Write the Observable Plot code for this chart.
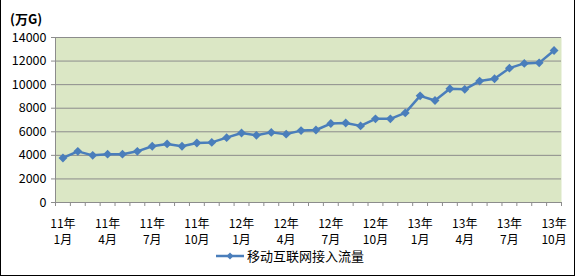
<!DOCTYPE html>
<html><head><meta charset="utf-8">
<script src="https://cdn.jsdelivr.net/npm/d3@7"></script>
<script src="https://cdn.jsdelivr.net/npm/@observablehq/plot@0.6"></script>
<style>
body{margin:0;background:#fff;font-family:"Noto Sans CJK SC","Noto Sans",sans-serif;}
#wrap{position:relative;width:575px;height:276px;box-sizing:border-box;border:1px solid #000;border-top:none;overflow:hidden;background:#fff}
#chart{position:absolute;left:0;top:0}
#unit{position:absolute;left:9px;top:9px;font-size:13px;font-weight:bold;color:#000}
#legend{position:absolute;left:215px;top:249px;display:flex;align-items:center;font-size:13px;line-height:14px;color:#000}
#legend svg{margin-right:3px}
</style></head><body>
<div id="wrap">
<div id="chart"></div>
<div id="unit">(万G)</div>
<div id="legend"><svg width="28" height="12"><line x1="0" y1="6" x2="28" y2="6" stroke="#4a7ebb" stroke-width="2.5"/><path d="M14,2.5L17.5,6L14,9.5L10.5,6Z" fill="#4a7ebb"/></svg><span id="legendText"></span></div>
</div>
<script>
const seriesName = "移动互联网接入流量";
const months = ["11年1月","11年2月","11年3月","11年4月","11年5月","11年6月","11年7月","11年8月","11年9月","11年10月","11年11月","11年12月",
"12年1月","12年2月","12年3月","12年4月","12年5月","12年6月","12年7月","12年8月","12年9月","12年10月","12年11月","12年12月",
"13年1月","13年2月","13年3月","13年4月","13年5月","13年6月","13年7月","13年8月","13年9月","13年10月"];
const traffic = [3780,4340,4000,4100,4100,4340,4770,4970,4770,5050,5100,5500,
5900,5700,5950,5800,6100,6150,6700,6750,6500,7100,7100,7600,
9050,8650,9650,9600,10300,10500,11400,11800,11850,12900];
const yTicks = [0,2000,4000,6000,8000,10000,12000,14000];

document.getElementById("legendText").textContent = seriesName;
const data = months.map((m, i) => ({m, i, v: traffic[i]}));
const labelPos = data.filter(d => d.i % 3 === 0).map(d => d.i + 0.5);
const gray = "#8c8c8c";
const font = '"Noto Sans CJK SC","Noto Sans",sans-serif';

const plot = Plot.plot({
  width: 573, height: 246,
  marginLeft: 54, marginRight: 13, marginTop: 37, marginBottom: 44,
  style: {fontFamily: font, fontSize: "12.5px", color: "#000", background: "transparent", overflow: "visible"},
  x: {domain: [0, months.length]},
  y: {domain: [0, 14000]},
  marks: [
    Plot.frame({fill: "#dbe7c5", stroke: null}),
    Plot.gridY(yTicks.filter(t => t > 0), {stroke: gray, strokeOpacity: 1, strokeWidth: 1}),
    Plot.ruleY([0], {stroke: gray}),
    Plot.ruleX([0], {stroke: gray}),
    Plot.axisY(yTicks, {tickSize: 4, tickPadding: 5, stroke: gray, fill: "#000", label: null, tickFormat: d3.format("d")}),
    Plot.axisX(d3.range(0, months.length + 1), {tickSize: 4, tickFormat: () => "", stroke: gray, label: null}),
    Plot.axisX(labelPos, {tickSize: 0, tickPadding: 14, lineHeight: 1.35, fontSize: 12, fill: "#000", label: null,
      tickFormat: x => months[x - 0.5].replace("年", "年\n")}),
    Plot.line(data, {x: d => d.i + 0.5, y: "v", stroke: "#4a7ebb", strokeWidth: 2.5}),
    Plot.dot(data, {x: d => d.i + 0.5, y: "v", symbol: "diamond2", r: 4, fill: "#4a7ebb", stroke: null})
  ]
});
document.getElementById("chart").appendChild(plot);
</script>
</body></html>
